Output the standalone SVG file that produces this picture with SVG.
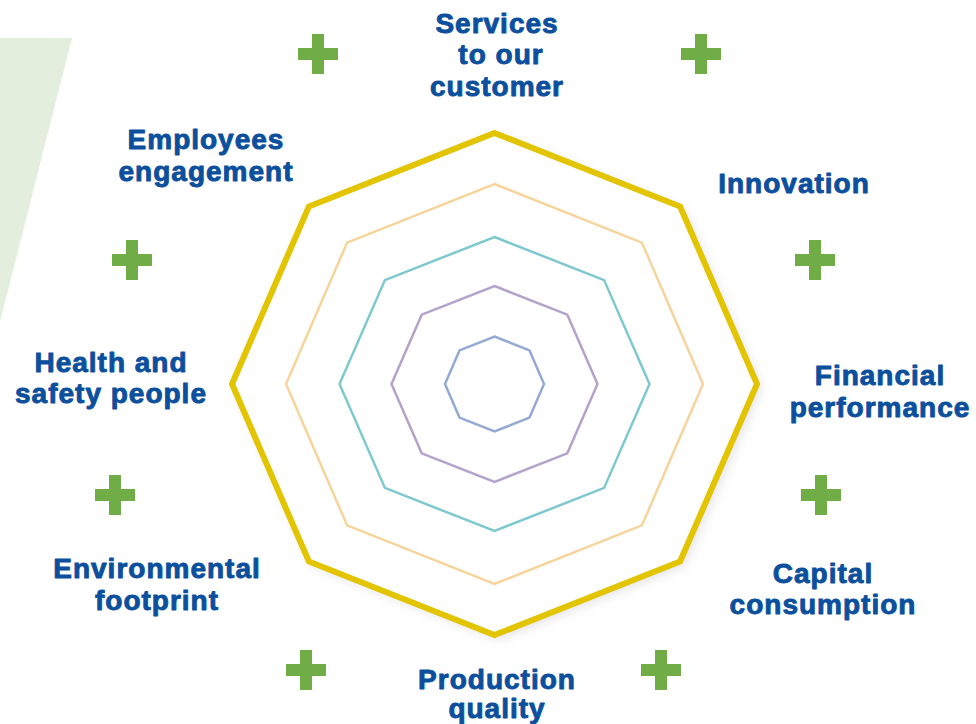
<svg xmlns="http://www.w3.org/2000/svg" width="976" height="724" viewBox="0 0 976 724">
  <defs>
    <style>
      .lbl { font-family: "Liberation Sans", Arial, sans-serif; font-weight: bold; font-size: 28px; letter-spacing: 1px; fill: #0B4F9D; stroke: #0B4F9D; stroke-width: 0.9px; stroke-linejoin: round; text-anchor: middle; }
      .ring { fill: none; stroke-linejoin: miter; }
      .plus { fill: #70AD47; }
    </style>
    <filter id="soft" x="-10%" y="-10%" width="120%" height="120%">
      <feGaussianBlur stdDeviation="6"/>
    </filter>
    <!-- plus sign, centred on the origin -->
    <path id="plus" d="M-6,-20 H6 V-6 H20 V6 H6 V20 H-6 V6 H-20 V-6 H-6 Z"/>
  </defs>

  <rect width="976" height="724" fill="#ffffff"/>

  <!-- pale green band at the left edge -->
  <polygon points="0,38 72,38 0,322" fill="#E3EEDD"/>

  <!-- radar chart: concentric octagons -->
  <g id="radar">
    <polygon points="498.5,137 684.1,210.5 761,388 684.1,565.5 498.5,639 312.9,565.5 236,388 312.9,210.5" fill="#C9C9D2" opacity="0.55" filter="url(#soft)"/>
    <polygon points="494.5,133 680.1,206.5 757,384 680.1,561.5 494.5,635 308.9,561.5 232,384 308.9,206.5" fill="#ffffff"/>
    <polygon class="ring" points="494.5,133 680.1,206.5 757,384 680.1,561.5 494.5,635 308.9,561.5 232,384 308.9,206.5" stroke="#E2C400" stroke-width="6"/>
    <polygon class="ring" points="494.5,184 641.9,242.6 703,384 641.9,525.4 494.5,584 347.1,525.4 286,384 347.1,242.6" stroke="#F6D49C" stroke-width="2.5"/>
    <polygon class="ring" points="494.5,237 604.1,280.1 649.5,384 604.1,487.9 494.5,531 384.9,487.9 339.5,384 384.9,280.1" stroke="#7EC9CF" stroke-width="2.5"/>
    <polygon class="ring" points="494.5,286 567.3,314.7 597.5,384 567.3,453.3 494.5,482 421.7,453.3 391.5,384 421.7,314.7" stroke="#B3A3CC" stroke-width="2.5"/>
    <polygon class="ring" points="494.5,336.5 529.5,350.4 544,384 529.5,417.6 494.5,431.5 459.5,417.6 445,384 459.5,350.4" stroke="#94A9D3" stroke-width="2.5"/>
  </g>

  <!-- plus markers between the axes -->
  <g id="plus-markers" class="plus">
    <use href="#plus" x="318" y="54"/>
    <use href="#plus" x="701" y="54"/>
    <use href="#plus" x="132" y="260"/>
    <use href="#plus" x="815" y="260"/>
    <use href="#plus" x="115" y="495"/>
    <use href="#plus" x="821" y="495"/>
    <use href="#plus" x="306" y="670"/>
    <use href="#plus" x="661" y="670"/>
  </g>

  <!-- axis labels -->
  <g id="label-services">
    <text class="lbl" x="497" y="33">Services</text>
    <text class="lbl" x="501" y="64">to our</text>
    <text class="lbl" x="497" y="96">customer</text>
  </g>
  <g id="label-innovation">
    <text class="lbl" x="794" y="193">Innovation</text>
  </g>
  <g id="label-financial">
    <text class="lbl" x="880" y="385">Financial</text>
    <text class="lbl" x="880" y="417">performance</text>
  </g>
  <g id="label-capital">
    <text class="lbl" x="823" y="583">Capital</text>
    <text class="lbl" x="823" y="614">consumption</text>
  </g>
  <g id="label-production">
    <text class="lbl" x="497" y="689">Production</text>
    <text class="lbl" x="497" y="718">quality</text>
  </g>
  <g id="label-environment">
    <text class="lbl" x="157" y="578">Environmental</text>
    <text class="lbl" x="157" y="610">footprint</text>
  </g>
  <g id="label-health">
    <text class="lbl" x="111" y="372">Health and</text>
    <text class="lbl" x="111" y="403">safety people</text>
  </g>
  <g id="label-employees">
    <text class="lbl" x="206" y="149">Employees</text>
    <text class="lbl" x="206" y="181">engagement</text>
  </g>
</svg>
